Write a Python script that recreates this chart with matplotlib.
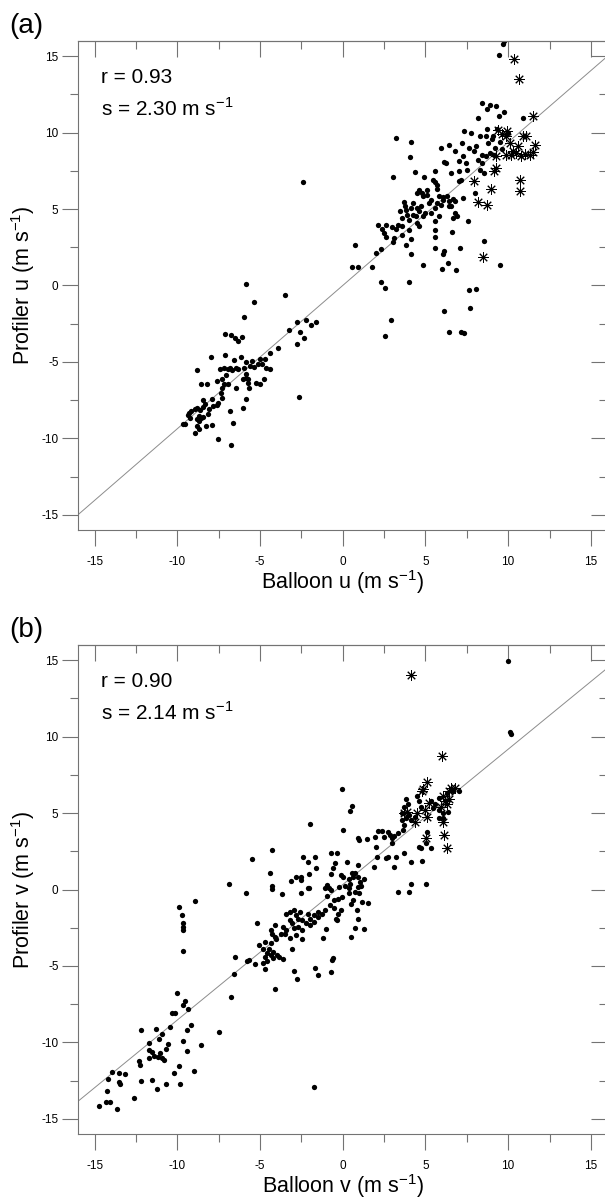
import numpy as np
import matplotlib.pyplot as plt
from matplotlib.ticker import MultipleLocator

plt.rcParams['font.family'] = ['Liberation Sans', 'DejaVu Sans']
plt.rcParams['mathtext.fontset'] = 'custom'
plt.rcParams['mathtext.rm'] = 'Liberation Sans'
plt.rcParams['axes.unicode_minus'] = False

# (balloon, profiler) pairs, m/s
u_dots = [
    (9.70, 15.8), (9.77, 15.97), (9.43, 15.05),
    (3.23, 9.67), (4.10, 9.41), (4.08, 8.41), (4.34, 7.45), (3.01, 7.10), (4.91, 7.10),
    (8.44, 11.96), (8.91, 11.83), (9.25, 11.72), (8.72, 11.57), (9.72, 11.35), (9.43, 11.07),
    (10.89, 10.96), (8.15, 10.94), (7.32, 10.11), (8.72, 10.24), (9.34, 10.22), (7.78, 9.98),
    (8.32, 9.76), (8.67, 9.76), (6.41, 9.19), (5.94, 8.98), (7.20, 9.32), (7.63, 9.0),
    (8.08, 9.1), (7.96, 8.78), (8.44, 8.56), (7.25, 8.45), (6.77, 8.78), (6.1, 8.08),
    (6.25, 8.02), (7.0, 8.13), (7.48, 8.02), (8.44, 8.02), (5.58, 7.47), (6.53, 7.36),
    (7.0, 7.47), (7.53, 7.58), (8.2, 8.24), (8.67, 8.45), (9.15, 8.52), (7.17, 6.93),
    (7.0, 6.82), (5.44, 6.93), (5.58, 6.78), (5.7, 6.6), (5.7, 6.34), (4.63, 6.27),
    (5.1, 6.27), (4.5, 6.06), (4.8, 6.06), (5.1, 5.95), (4.87, 5.84), (5.82, 5.84),
    (6.06, 5.8), (6.3, 5.84), (5.34, 5.62), (5.22, 5.4), (6.06, 5.62), (6.41, 5.51),
    (6.65, 5.66), (6.77, 5.51), (7.25, 5.73), (5.7, 5.4), (5.94, 5.29), (6.41, 5.18),
    (5.58, 5.08), (4.75, 5.23), (4.27, 5.4), (3.68, 5.45), (3.75, 5.18), (3.44, 4.86),
    (3.8, 4.97), (4.15, 5.08), (4.5, 5.08), (4.63, 4.86), (4.99, 4.75), (4.27, 4.64),
    (3.91, 4.58), (3.56, 4.42), (4.03, 4.31), (4.44, 4.53), (4.87, 4.53), (5.34, 4.75),
    (5.82, 4.53), (5.58, 4.2), (6.53, 5.18), (6.77, 4.75), (6.89, 4.53), (6.65, 4.42),
    (7.6, 4.2), (4.5, 4.09), (4.63, 3.88), (4.03, 3.66), (3.32, 3.99), (2.96, 3.83),
    (2.61, 3.99), (2.13, 3.94), (2.37, 3.7), (3.2, 3.7), (3.56, 3.88), (2.49, 3.44),
    (2.61, 3.18), (3.08, 3.12), (3.56, 3.33), (4.15, 3.05), (5.58, 3.66), (5.58, 3.18),
    (6.6, 3.51), (3.01, 2.83), (3.8, 2.68), (0.77, 2.68), (2.3, 2.42), (5.58, 2.46),
    (6.13, 2.24), (6.06, 2.09), (7.1, 2.46), (8.55, 2.9), (1.99, 2.11), (4.1, 2.09),
    (0.58, 1.24), (0.94, 1.24), (1.77, 1.24), (4.87, 1.31), (6.01, 1.11), (6.37, 1.44),
    (6.82, 1.0), (9.51, 1.33), (2.3, 0.22), (2.54, -0.17), (3.99, 0.26), (7.63, -0.28),
    (8.03, -0.2), (8.32, 7.58), (8.55, 7.36), (8.0, 6.06), (9.0, 9.6), (9.5, 9.4),
    (9.2, 9.0), (8.9, 8.7), (9.6, 8.9), (10.0, 10.0), (9.1, 9.8), (8.8, 9.3),
    (6.15, -1.70), (7.67, -1.48), (2.89, -2.24), (6.41, -3.05), (7.15, -3.05),
    (7.34, -3.09), (2.58, -3.29), (-2.41, 6.75),
    (-5.86, 0.11), (-3.48, -0.65), (-5.34, -1.09), (-5.96, -2.07), (-7.10, -3.16),
    (-6.74, -3.25), (-6.5, -3.42), (-6.32, -3.64), (-6.08, -3.36), (-3.22, -2.9),
    (-2.75, -2.4), (-2.22, -2.27), (-1.6, -2.37), (-1.91, -2.61), (-2.6, -3.03),
    (-2.37, -3.42), (-2.77, -3.81), (-3.89, -4.07), (-4.41, -4.4), (-4.72, -4.84),
    (-5.0, -4.79), (-4.89, -5.16), (-4.65, -5.38), (-4.41, -5.45), (-4.77, -6.1),
    (-5.13, -5.16), (-5.36, -5.32), (-5.48, -4.95), (-5.6, -5.27), (-5.84, -5.01),
    (-5.96, -5.38), (-6.13, -4.66), (-6.32, -5.49), (-6.55, -4.9), (-6.43, -5.38),
    (-6.67, -5.56), (-6.79, -5.38), (-6.91, -5.49), (-7.15, -5.38), (-7.39, -5.49),
    (-7.03, -5.88), (-7.27, -6.14), (-7.62, -6.25), (-7.15, -6.43), (-7.27, -6.69),
    (-6.91, -6.43), (-6.48, -6.69), (-5.84, -5.82), (-5.72, -6.14), (-5.72, -6.36),
    (-5.65, -6.69), (-5.24, -6.36), (-5.0, -6.47), (-5.84, -6.03), (-6.03, -6.14),
    (-7.98, -4.66), (-7.1, -4.53), (-8.79, -5.53), (-8.55, -6.47), (-8.22, -6.43),
    (-7.36, -7.02), (-7.27, -7.34), (-5.84, -7.41), (-2.63, -7.3), (-7.89, -7.45),
    (-8.46, -7.49), (-8.34, -7.78), (-8.46, -7.95), (-7.86, -7.89), (-7.62, -7.82),
    (-7.55, -7.71), (-8.81, -8.0), (-8.62, -8.17), (-8.1, -8.1), (-9.17, -8.21),
    (-9.29, -8.32), (-8.93, -8.1), (-8.15, -8.43), (-8.7, -8.54), (-8.58, -8.65),
    (-8.46, -8.58), (-9.36, -8.47), (-9.22, -8.65), (-8.81, -8.76), (-9.53, -9.04),
    (-9.65, -9.08), (-8.7, -8.87), (-8.81, -9.19), (-8.29, -9.19), (-7.89, -9.11),
    (-8.7, -9.37), (-8.93, -9.67), (-6.79, -8.19), (-6.05, -8.04), (-6.65, -8.98),
    (-7.55, -10.02), (-6.74, -10.44),
]
u_stars = [
    (10.34, 14.84), (10.65, 13.53), (11.48, 11.09), (11.05, 9.80), (11.6, 9.19),
    (11.53, 8.71), (10.7, 6.88), (10.7, 6.21), (7.96, 6.86), (8.98, 6.34), (8.2, 5.47),
    (8.72, 5.25), (8.5, 1.85), (9.27, 7.69), (9.15, 7.47), (9.39, 10.2), (9.86, 9.76),
    (10.1, 9.32), (10.6, 9.1), (10.8, 8.45), (11.3, 8.56), (10.2, 8.56), (9.86, 8.56),
    (10.9, 9.76), (10.3, 8.78), (9.27, 8.45), (11.0, 8.6), (10.5, 8.7), (9.6, 9.9),
    (9.9, 10.1),
]

v_dots = [
    (9.98, 14.96), (10.1, 10.29), (10.17, 10.18),
    (3.8, 5.93), (3.96, 5.6), (4.51, 6.09), (4.63, 5.76), (4.75, 5.43), (5.34, 5.76),
    (5.58, 5.6), (5.46, 5.32), (5.82, 5.21), (6.06, 4.99), (6.34, 5.1), (5.82, 4.66),
    (6.06, 4.66), (7.0, 6.42), (6.65, 6.42), (6.29, 6.31), (5.82, 5.98), (3.68, 5.43),
    (3.56, 4.99), (3.8, 4.66), (4.15, 4.55), (4.03, 4.88), (4.39, 4.77), (3.56, 4.55),
    (3.73, 4.23), (3.63, 3.9), (3.32, 3.68), (3.08, 3.5), (2.96, 3.35), (2.84, 3.57),
    (2.73, 3.79), (2.13, 3.83), (2.37, 3.83), (1.96, 3.46), (0.94, 3.35), (1.01, 3.24),
    (1.49, 3.31), (2.49, 3.46), (2.01, 2.8), (2.96, 3.02), (3.68, 2.36), (2.08, 2.1),
    (2.61, 2.04), (2.73, 2.15), (3.2, 2.15), (1.89, 1.49), (3.08, 1.49), (4.1, 1.77),
    (4.8, 1.86), (4.63, 2.8), (4.75, 2.69), (5.34, 2.69), (4.1, 0.37), (5.03, 0.35),
    (3.32, -0.15), (3.99, -0.15), (5.1, 3.74), (5.05, 3.02),
    (-0.06, 6.57), (0.54, 5.47), (0.46, 5.15), (-0.01, 3.9), (-1.96, 4.29), (-4.29, 2.56),
    (-5.46, 1.97), (-0.72, 2.36), (-0.37, 2.36), (-2.39, 2.15), (-1.67, 2.15),
    (-2.08, 1.82), (0.23, 1.77), (-0.49, 1.71), (-0.6, 1.38), (-1.6, 1.38), (0.94, 1.6),
    (0.54, 1.1), (0.77, 1.1), (-0.13, 0.94), (-0.72, 0.99), (0.0, 0.83), (0.35, 0.7),
    (0.63, 0.79), (0.94, 0.83), (1.3, 0.72), (1.06, 0.5), (0.94, 0.18), (0.46, 0.39),
    (0.11, 0.22), (-0.25, 0.18), (-0.96, 0.28), (-1.08, 0.13), (-0.84, 0.07),
    (-0.72, -0.04), (-2.03, 1.01), (-2.03, 0.11), (-2.51, 0.61), (-2.51, 0.79),
    (-2.82, 0.79), (-2.08, 0.13), (-3.15, 0.55), (-2.55, -0.26), (-3.7, -0.31),
    (-4.41, 1.05), (-4.29, 0.22), (-4.29, 0.05), (-6.86, 0.33), (-5.86, -0.22),
    (-0.98, -0.44), (-0.55, -0.7), (-0.31, -0.59), (-0.79, -1.02), (-0.55, -1.24),
    (-0.31, -1.57), (-0.38, -1.96), (-1.07, -1.35), (-1.26, -1.57), (-1.5, -1.79),
    (-1.74, -1.68), (-1.5, -1.46), (-2.1, -1.57), (-1.98, -1.9), (-1.74, -2.11),
    (-1.98, -2.33), (-2.21, -2.22), (-2.45, -2.0), (-2.69, -1.9), (-2.57, -1.46),
    (-2.93, -1.35), (-3.17, -1.46), (-3.4, -1.57), (-2.81, -1.68), (-3.17, -2.0),
    (-3.05, -2.22), (-2.93, -2.55), (-2.69, -2.44), (-2.45, -2.66), (-2.81, -2.98),
    (-2.45, -3.27), (-3.17, -3.2), (-3.4, -2.66), (-3.64, -2.44), (-3.76, -2.88),
    (-4.12, -3.09), (-4.36, -2.66), (-4.29, -2.88), (-4.12, -2.33), (-3.48, -2.94),
    (-4.05, -3.27), (-4.36, -3.53), (-4.71, -3.42), (-4.83, -3.86), (-4.48, -3.86),
    (-4.24, -4.07), (-4.6, -4.18), (-4.0, -4.29), (-3.88, -4.4), (-3.64, -4.53),
    (-4.36, -4.29), (-4.24, -4.51), (-4.71, -4.4), (-5.07, -3.64), (-4.55, -4.68),
    (-4.83, -4.84), (-4.71, -5.23), (-5.31, -4.9), (-5.67, -4.62), (-5.79, -4.68),
    (-6.5, -4.4), (-5.19, -2.22), (-3.05, -3.86), (-4.07, -6.54), (-2.76, -5.86),
    (-2.93, -5.32), (-1.67, -5.12), (-1.5, -5.62), (-0.71, -5.38), (-0.67, -4.62),
    (-0.6, -4.51), (-0.12, -1.35), (-0.36, -2.0), (-1.02, -2.61), (-1.19, -3.14),
    (-0.07, -0.48), (0.4, -0.26), (0.76, -0.15), (1.0, -0.26), (0.64, -0.7),
    (0.52, -0.92), (0.88, -1.35), (0.93, -1.9), (0.76, -2.55), (1.31, -2.61),
    (0.52, -3.09), (1.19, -0.81), (1.55, -0.87), (0.36, 0.13), (1.12, 0.22),
    (-9.9, -1.13), (-9.71, -1.68), (-9.64, -2.22), (-9.67, -2.44), (-9.64, -2.66),
    (-9.67, -4.01), (-8.95, -0.74), (-6.57, -5.56), (-6.74, -7.02), (-7.45, -9.3),
    (-10.02, -6.8), (-9.67, -7.56), (-9.52, -7.28), (-9.36, -7.84), (-10.31, -8.1),
    (-10.12, -8.06), (-10.43, -8.98), (-9.17, -8.87), (-9.4, -9.19), (-12.21, -9.19),
    (-11.31, -9.13), (-10.95, -9.48), (-11.1, -9.8), (-11.69, -10.07), (-10.55, -10.11),
    (-10.67, -10.46), (-9.67, -9.91), (-9.4, -10.54), (-8.57, -10.17), (-11.69, -10.5),
    (-11.55, -10.61), (-11.07, -10.72), (-11.38, -10.9), (-11.17, -10.94), (-10.9, -11.05),
    (-10.79, -11.15), (-11.69, -11.05), (-12.33, -11.2), (-12.26, -11.48), (-9.88, -11.52),
    (-10.19, -11.98), (-9.0, -11.87), (-13.93, -11.92), (-13.52, -11.98), (-13.17, -12.07),
    (-14.17, -12.42), (-12.21, -12.51), (-11.5, -12.46), (-13.52, -12.57), (-13.48, -12.72),
    (-11.21, -13.07), (-10.71, -12.72), (-9.83, -12.72), (-14.24, -13.16), (-12.64, -13.66),
    (-14.29, -13.88), (-14.05, -13.92), (-14.76, -14.14), (-13.64, -14.34), (-1.74, -12.9),
]
v_stars = [
    (4.15, 14.01), (5.98, 8.76), (5.1, 7.03), (4.87, 6.61), (4.82, 6.46), (6.53, 6.63),
    (6.77, 6.63), (6.41, 6.42), (6.06, 6.09), (6.18, 5.8), (6.29, 5.6), (5.94, 5.43),
    (5.22, 5.65), (4.99, 5.21), (4.51, 4.99), (3.91, 5.1), (3.68, 4.99), (4.39, 4.44),
    (6.06, 4.44), (5.03, 3.35), (6.13, 3.57), (6.29, 2.69), (5.1, 4.77), (6.41, 5.91),
]

# fitted line (slope, intercept) and statistics
u_fit = (0.9375, 0.0)
v_fit = (0.886, 0.32)
u_r, u_s = 0.93, 2.30
v_r, v_s = 0.90, 2.14

spine_col = '0.45'


def draw_panel(ax, dots, stars, fit, r, s, comp):
    dots = np.array(dots)
    stars = np.array(stars)
    ax.set_xlim(-16, 16)
    ax.set_ylim(-16, 16)
    xs = np.array(ax.get_xlim())
    ax.plot(xs, fit[0] * xs + fit[1], color='0.55', lw=0.7, zorder=1)
    ax.plot(dots[:, 0], dots[:, 1], 'o', color='black', ms=3.8, mec='none', zorder=2)
    ax.plot(stars[:, 0], stars[:, 1], marker=(8, 2, 0), ls='none', color='black',
            ms=7.5, mew=0.7, zorder=3)

    for a in (ax.xaxis, ax.yaxis):
        a.set_major_locator(MultipleLocator(5))
        a.set_minor_locator(MultipleLocator(2.5))
    ax.tick_params(which='major', direction='out', length=11.5, width=0.8,
                   color=spine_col, labelsize=8.5)
    ax.tick_params(which='minor', direction='out', length=6, width=0.8, color=spine_col)
    ax.tick_params(axis='x', pad=7)
    ax.tick_params(axis='y', pad=2.5)

    top = ax.secondary_xaxis('top')
    right = ax.secondary_yaxis('right')
    for sec, a in ((top, top.xaxis), (right, right.yaxis)):
        a.set_major_locator(MultipleLocator(5))
        a.set_minor_locator(MultipleLocator(2.5))
        sec.tick_params(which='major', direction='in', length=11.5, width=0.8, color=spine_col)
        sec.tick_params(which='minor', direction='in', length=6, width=0.8, color=spine_col)
        for sp in sec.spines.values():
            sp.set_color(spine_col)
    top.tick_params(labeltop=False)
    right.tick_params(labelright=False)
    for sp in ax.spines.values():
        sp.set_color(spine_col)
        sp.set_linewidth(0.8)

    ax.text(-14.6, 13.6, 'r = %.2f' % r, fontsize=15, va='center')
    ax.text(-14.6, 11.6, 's = %.2f m s$^{\\mathrm{-1}}$' % s, fontsize=15, va='center')
    ax.set_xlabel('Balloon %s (m s$^{\\mathrm{-1}}$)' % comp, fontsize=15.5, labelpad=0)
    ax.set_ylabel('Profiler %s (m s$^{\\mathrm{-1}}$)' % comp, fontsize=15.5, labelpad=3)


fig = plt.figure(figsize=(6.05, 11.98), dpi=100)
ax_a = fig.add_axes([0.129, 0.5576, 0.875, 0.4082])
ax_b = fig.add_axes([0.129, 0.0534, 0.875, 0.4082])

draw_panel(ax_a, u_dots, u_stars, u_fit, u_r, u_s, 'u')
draw_panel(ax_b, v_dots, v_stars, v_fit, v_r, v_s, 'v')

fig.text(0.015, 0.978, '(a)', fontsize=20, va='center')
fig.text(0.015, 0.474, '(b)', fontsize=20, va='center')

fig.savefig('out.png', dpi=100)
